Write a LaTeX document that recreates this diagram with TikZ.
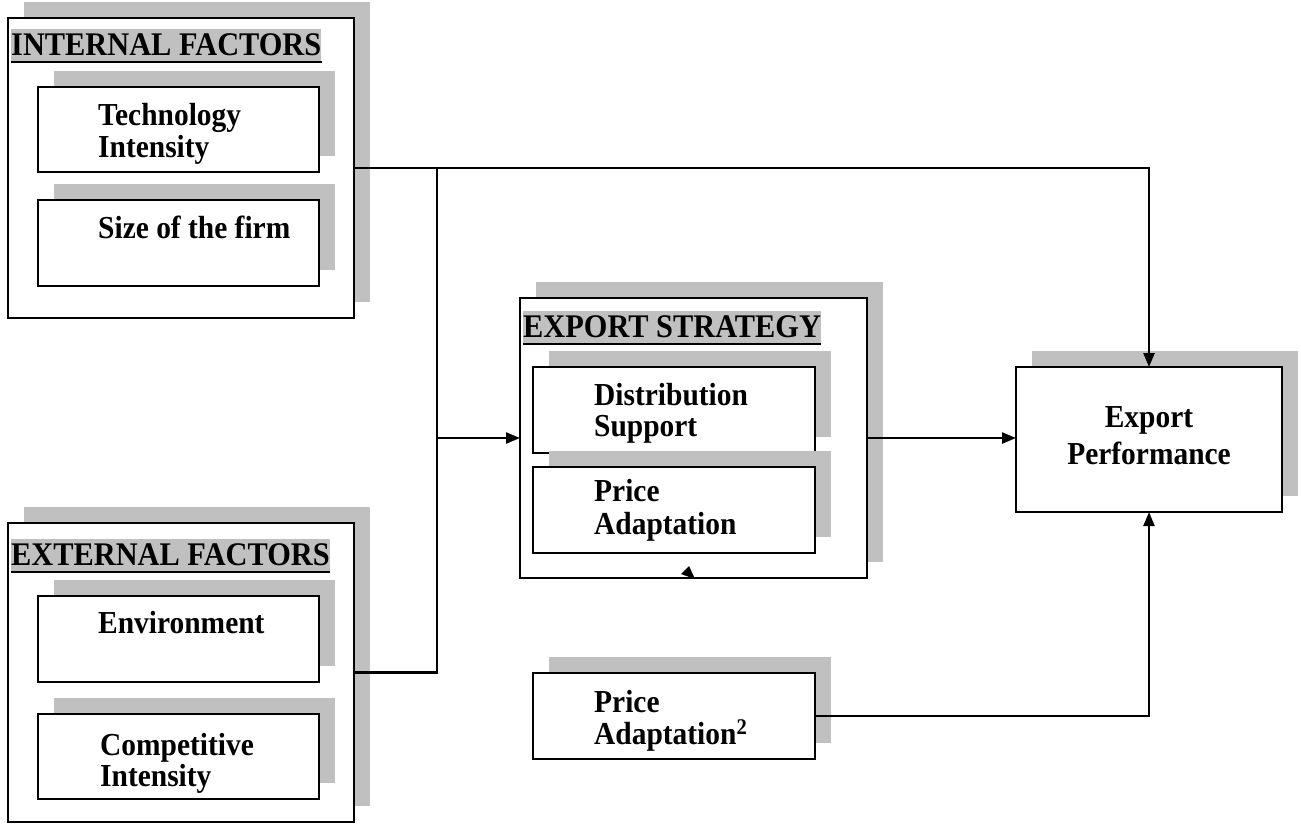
\documentclass[tikz,border=0pt]{standalone}
\usepackage{fontspec}
\setmainfont{Liberation Serif}
\newfontfamily\bodyfont{Liberation Serif}[FakeStretch=0.92]
\newfontfamily\hdrfont{Liberation Serif}[FakeStretch=0.92]
\usetikzlibrary{fit,arrows.meta}
\definecolor{shgray}{HTML}{C0C0C0}
\newcommand{\shbox}[6]{%
  \fill[shgray] (#3+16,#4-16) rectangle (#5+16,#6-16);
  \node[#1, fit={(#3,#4) (#5,#6)}] (#2) {};}
\begin{document}
\begin{tikzpicture}[x=1pt,y=-1pt,
  outerbox/.style={draw, line width=1.8pt, fill=white, inner sep=0pt, outer sep=0pt},
  innerbox/.style={draw, line width=2.2pt, fill=white, inner sep=0pt, outer sep=0pt},
  lbl/.style={font=\bodyfont\fontsize{32}{35}\selectfont\bfseries, inner sep=0pt, anchor=base west},
  clbl/.style={font=\bodyfont\fontsize{32}{35}\selectfont\bfseries, inner sep=0pt, anchor=base},
  hdr/.style={fill=shgray, font=\hdrfont\fontsize{33}{36}\selectfont\bfseries, inner xsep=0pt, inner ysep=0pt, text height=26pt, text depth=7pt, anchor=base west},
  uline/.style={line width=2.4pt},
  conn/.style={line width=2.3pt},
  arr/.style={conn, -{Triangle[length=14pt,width=11pt]}}]
\path[use as bounding box, clip] (0,0) rectangle (1301,823);
\fill[white] (0,0) rectangle (1301,823);

% internal factors
\shbox{outerbox}{int}{8}{18}{354}{318}
\node[hdr] (inthdr) at (11,55) {INTERNAL FACTORS};
\draw[uline] (inthdr.south west) -- (inthdr.south east);
\shbox{innerbox}{tech}{38}{87}{319}{172}
\node[lbl] (tech1) at (98,125) {Technology};
\node[lbl] (tech2) at (98,157) {Intensity};
\shbox{innerbox}{size}{38}{200}{319}{286}
\node[lbl] (size1) at (98,238) {Size of the firm};

% external factors
\shbox{outerbox}{ext}{8}{523}{354}{822}
\node[hdr] (exthdr) at (11,565) {EXTERNAL FACTORS};
\draw[uline] (exthdr.south west) -- (exthdr.south east);
\shbox{innerbox}{env}{38}{596}{319}{682}
\node[lbl] (env1) at (98,633) {Environment};
\shbox{innerbox}{comp}{38}{714}{319}{799}
\node[lbl] (comp1) at (100,755) {Competitive};
\node[lbl] (comp2) at (100,786) {Intensity};

% export strategy
\shbox{outerbox}{strat}{520}{298}{867}{578}
\node[hdr] (strathdr) at (523,337) {EXPORT STRATEGY};
\draw[uline] (strathdr.south west) -- (strathdr.south east);
\shbox{innerbox}{dist}{533}{367}{815}{453}
\node[lbl] (dist1) at (594,405) {Distribution};
\node[lbl] (dist2) at (594,436) {Support};
\shbox{innerbox}{price}{533}{467}{815}{553}
\node[lbl] (price1) at (594,501) {Price};
\node[lbl] (price2) at (594,534) {Adaptation};
\fill (689,566) -- (681,574) -- (695,579) -- cycle;

% price adaptation squared
\shbox{innerbox}{ptwo}{533}{673}{815}{759}
\node[lbl] (ptwo1) at (594,712) {Price};
\node[lbl] (ptwo2) at (594,744) {Adaptation\textsuperscript{2}};

% export performance
\shbox{innerbox}{perf}{1016}{367}{1282}{512}
\node[clbl] (perf1) at (1149,427) {Export};
\node[clbl] (perf2) at (1149,464) {Performance};

% connectors
\coordinate (jx) at (437,438);
\draw[arr] (int.east) -| (perf.north);
\draw[conn] (int.east -| jx) -- (ext.east -| jx) -- (ext.east);
\draw[arr] (jx) -- (strat.west);
\draw[arr] (strat.east) -- (strat.east -| perf.west);
\draw[arr] (ptwo.east) -| (perf.south);
\end{tikzpicture}
\end{document}
